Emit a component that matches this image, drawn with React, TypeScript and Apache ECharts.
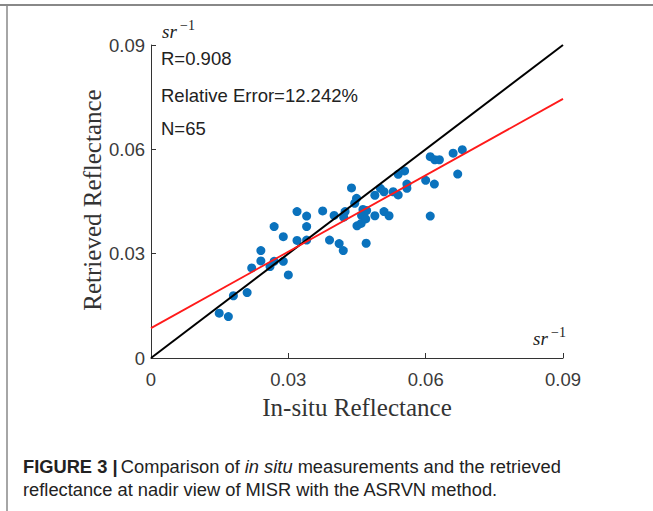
import React, { useEffect, useRef } from "react";
import * as echarts from "echarts";

const xTicks = [0, 0.03, 0.06, 0.09];
const insituX = [
  0.0149, 0.0169, 0.018, 0.021, 0.022, 0.024, 0.024, 0.026, 0.0269, 0.0269,
  0.0289, 0.0289, 0.03, 0.0319, 0.0319, 0.034, 0.034, 0.034, 0.0375, 0.039,
  0.04, 0.0411, 0.042, 0.0421, 0.0424, 0.0438, 0.0449, 0.0445, 0.045, 0.0459,
  0.0463, 0.0471, 0.046, 0.0469, 0.047, 0.0489, 0.0489, 0.0501, 0.0509, 0.0509,
  0.052, 0.0529, 0.054, 0.054, 0.0554, 0.0559, 0.0559, 0.06, 0.061, 0.062,
  0.063, 0.0619, 0.061, 0.066, 0.067, 0.068,
];
const retrievedY = [
  0.0129, 0.0119, 0.0179, 0.0188, 0.0259, 0.0309, 0.0279, 0.0263, 0.0378, 0.0278,
  0.0349, 0.0278, 0.0239, 0.0421, 0.0338, 0.0408, 0.0378, 0.0339, 0.0423, 0.0339,
  0.041, 0.0329, 0.0309, 0.0405, 0.0421, 0.0489, 0.0459, 0.0445, 0.038, 0.0387,
  0.0427, 0.0424, 0.041, 0.04, 0.033, 0.0409, 0.0468, 0.0488, 0.0478, 0.0421,
  0.0409, 0.0478, 0.0469, 0.0528, 0.0538, 0.05, 0.0488, 0.0511, 0.0579, 0.057,
  0.057, 0.05, 0.0408, 0.0589, 0.0529, 0.0599,
];
const oneToOne = [[0, 0], [0.09, 0.09]];
const fitLine = [[0, 0.0086], [0.09, 0.0745]];
const statsText = ["R=0.908", "Relative Error=12.242%", "N=65"];

export default function App() {
  const ref = useRef<HTMLDivElement>(null);
  useEffect(() => {
    const chart = echarts.init(ref.current!, null, { renderer: "svg" });
    const pts = insituX.map((x, i) => [x, retrievedY[i]]);
    const fmt = (v: number) => (v === 0 ? "0" : v.toFixed(2));
    const axisCommon = {
      type: "value" as const,
      min: 0,
      max: 0.09,
      interval: 0.03,
      axisLine: { show: true, lineStyle: { color: "#333", width: 1 } },
      axisTick: { show: true, inside: true, length: 5, lineStyle: { color: "#333" } },
      splitLine: { show: false },
    };
    const sans = "Liberation Sans, Arial, sans-serif";
    const serif = "Liberation Serif, Times New Roman, serif";
    chart.setOption({
      animation: false,
      backgroundColor: "#fff",
      grid: { left: 151, top: 45, width: 412, height: 313 },
      xAxis: {
        ...axisCommon,
        axisLabel: { formatter: fmt, color: "#3a3a3a", fontSize: 18.5, fontFamily: sans, margin: 12 },
      },
      yAxis: {
        ...axisCommon,
        axisLabel: { formatter: fmt, color: "#3a3a3a", fontSize: 18.5, fontFamily: sans, margin: 6 },
      },
      series: [
        {
          type: "line",
          data: oneToOne,
          symbol: "none",
          lineStyle: { color: "#000", width: 2 },
          z: 3,
        },
        {
          type: "line",
          data: fitLine,
          symbol: "none",
          lineStyle: { color: "#ff1a1a", width: 1.8 },
          z: 4,
        },
        {
          type: "scatter",
          data: pts,
          symbolSize: 9,
          itemStyle: { color: "#0a72bd", opacity: 1 },
          z: 2,
        },
      ],
      graphic: [
        { type: "line", shape: { x1: 0, y1: 5, x2: 653, y2: 5 }, style: { stroke: "#888", lineWidth: 2 } },
        { type: "line", shape: { x1: 7, y1: 4, x2: 7, y2: 511 }, style: { stroke: "#888", lineWidth: 1.5 } },
        ...statsText.map((t, i) => ({
          type: "text",
          left: 161,
          top: [49, 86, 119][i],
          style: { text: t, fontSize: 18.5, fontFamily: sans, fill: "#222" },
        })),
        { type: "text", left: 162, top: 22, style: { text: "sr", fontSize: 19, fontStyle: "italic", fontFamily: serif, fill: "#222" } },
        { type: "text", left: 180, top: 18, style: { text: "−1", fontSize: 14, fontFamily: serif, fill: "#222" } },
        { type: "text", left: 533, top: 329, style: { text: "sr", fontSize: 19, fontStyle: "italic", fontFamily: serif, fill: "#222" } },
        { type: "text", left: 551, top: 325, style: { text: "−1", fontSize: 14, fontFamily: serif, fill: "#222" } },
        {
          type: "text",
          x: 357,
          y: 407,
          style: { text: "In-situ Reflectance", fontSize: 25, fontFamily: serif, fill: "#333", align: "center", verticalAlign: "middle" },
        },
        {
          type: "text",
          x: 92,
          y: 200,
          rotation: Math.PI / 2,
          style: { text: "Retrieved Reflectance", fontSize: 25, fontFamily: serif, fill: "#333", align: "center", verticalAlign: "middle" },
        },
        {
          type: "text",
          left: 23,
          top: 457,
          style: {
            text: "{b|FIGURE 3 |} {r|Comparison of }{i|in situ}{r| measurements and the retrieved}",
            rich: {
              b: { fontWeight: "bold", fontSize: 18.3, fontFamily: sans, fill: "#222" },
              r: { fontSize: 18.3, fontFamily: sans, fill: "#222" },
              i: { fontSize: 18.3, fontFamily: sans, fontStyle: "italic", fill: "#222" },
            },
          },
        },
        {
          type: "text",
          left: 23,
          top: 480,
          style: { text: "reflectance at nadir view of MISR with the ASRVN method.", fontSize: 18.3, fontFamily: sans, fill: "#222" },
        },
      ],
    });
    return () => chart.dispose();
  }, []);
  return (
    <div
      ref={ref}
      style={{ position: "absolute", left: 0, top: 0, width: 653, height: 511 }}
    />
  );
}
